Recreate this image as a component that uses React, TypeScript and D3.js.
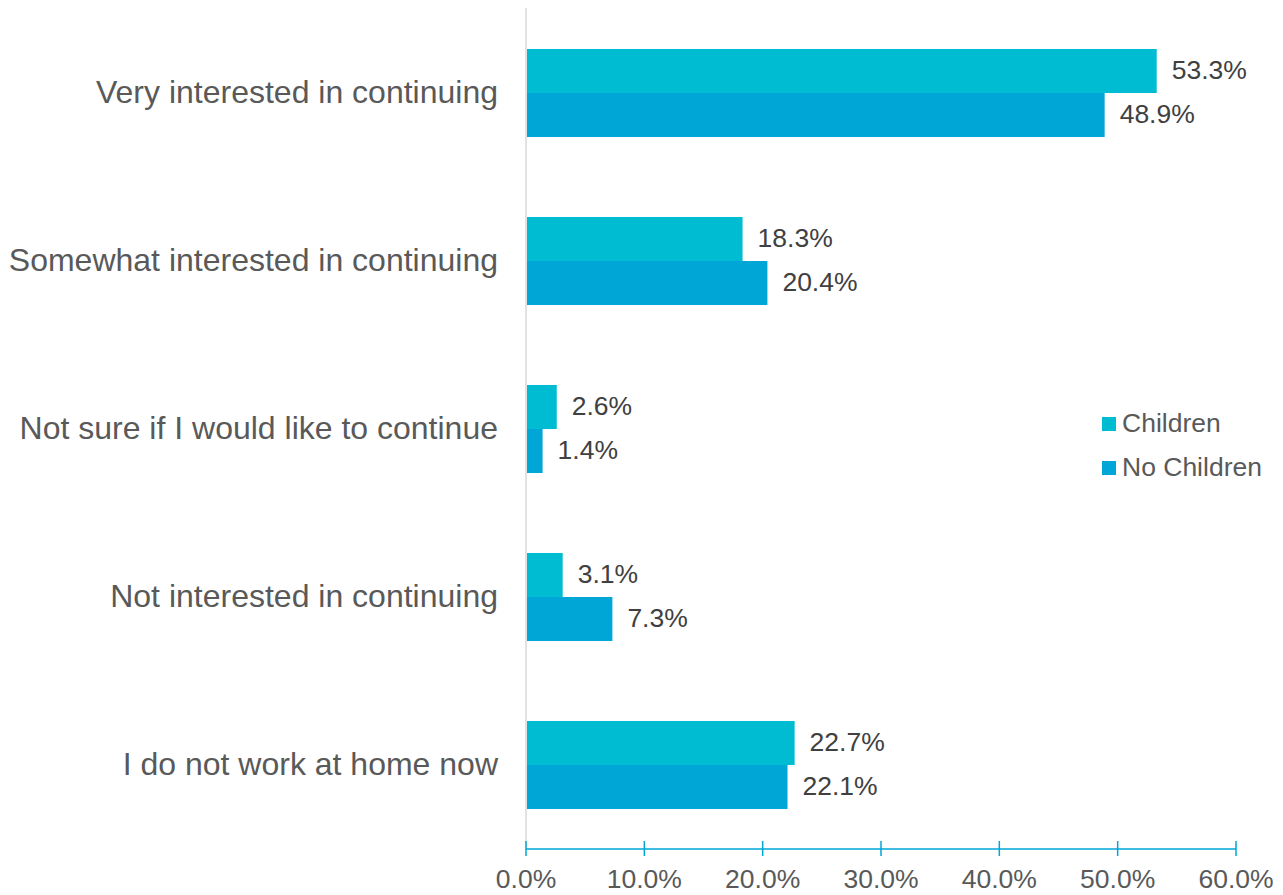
import * as React from 'react';
import * as d3 from 'd3';

const categories = [
  'Very interested in continuing',
  'Somewhat interested in continuing',
  'Not sure if I would like to continue',
  'Not interested in continuing',
  'I do not work at home now',
];
const childrenValues = [53.3, 18.3, 2.6, 3.1, 22.7];
const noChildrenValues = [48.9, 20.4, 1.4, 7.3, 22.1];
const seriesNames = ['Children', 'No Children'];
const seriesColors = ['#00bcd3', '#00a6d6'];
const xTicks = [0, 10, 20, 30, 40, 50, 60];

const W = 1283;
const H = 895;
const FONT = '"Liberation Sans", Arial, sans-serif';

const App = () => {
  const x = d3.scaleLinear().domain([0, 60]).range([526, 1236]);
  const y = d3.scaleBand().domain(categories).range([9, 849]).paddingInner(0.476).paddingOuter(0.238);
  const half = y.bandwidth() / 2;
  const series = [childrenValues, noChildrenValues];
  const axisY = 849;

  return (
    <svg width={W} height={H} style={{position: 'absolute', left: 0, top: 0}} fontFamily={FONT}>
      <rect width={W} height={H} fill="#fff" />

      {/* category baseline */}
      <line x1={x(0)} x2={x(0)} y1={8} y2={axisY} stroke="#d9d9d9" strokeWidth={1.5} />

      {categories.map((c, i) => {
        const top = y(c)!;
        return (
          <g key={c}>
            {series.map((vals, s) => (
              <g key={s}>
                <rect x={x(0) + 1} y={top + s * half} width={x(vals[i]) - x(0) - 1} height={half} fill={seriesColors[s]} />
                <text x={x(vals[i]) + 15} y={top + s * half + half / 2} dy="0.32em" fontSize={26.5} fill="#404040">
                  {vals[i].toFixed(1)}%
                </text>
              </g>
            ))}
            <text x={498} y={top + half} dy="0.3em" textAnchor="end" fontSize={32} fill="#595959">
              {c}
            </text>
          </g>
        );
      })}

      {/* x axis */}
      <line x1={x(0)} x2={x(60)} y1={axisY} y2={axisY} stroke={seriesColors[1]} strokeWidth={1.5} />
      {xTicks.map((t) => (
        <g key={t}>
          <line x1={x(t)} x2={x(t)} y1={axisY - 8} y2={axisY + 7} stroke={seriesColors[1]} strokeWidth={1.5} />
          <text x={x(t)} y={888} textAnchor="middle" fontSize={26.5} fill="#595959">
            {t.toFixed(1)}%
          </text>
        </g>
      ))}

      {/* legend */}
      {seriesNames.map((n, s) => (
        <g key={n} transform={`translate(1102, ${417 + s * 44})`}>
          <rect width={14} height={14} fill={seriesColors[s]} />
          <text x={20} y={7} dy="0.32em" fontSize={26.5} fill="#595959">
            {n}
          </text>
        </g>
      ))}
    </svg>
  );
};

export default App;
